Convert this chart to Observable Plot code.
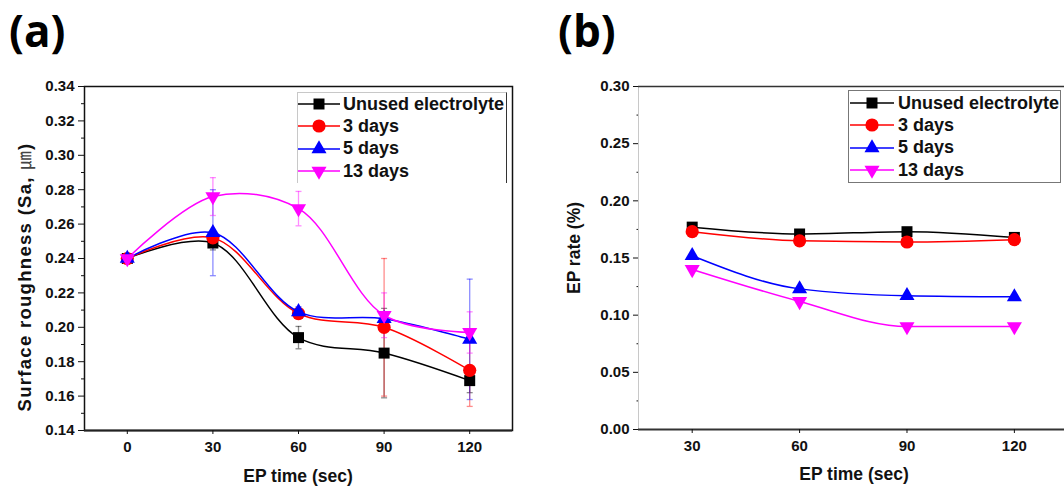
<!DOCTYPE html>
<html><head><meta charset="utf-8">
<script src="https://cdn.jsdelivr.net/npm/d3@7"></script>
<script src="https://cdn.jsdelivr.net/npm/@observablehq/plot@0.6"></script>
<style>
html,body{margin:0;padding:0;background:#fff;overflow:hidden}
#wrap{position:relative;width:1064px;height:486px;font-family:"Liberation Sans",Arial,sans-serif;font-weight:bold;color:#111}
.panel{position:absolute;font-family:"Open Sans",sans-serif;font-weight:700;font-size:44px;line-height:1;color:#000}
.title{position:absolute;font-size:17.5px;white-space:nowrap;transform:translate(-50%,-50%);line-height:1}
.vtitle{transform:translate(-50%,-50%) rotate(-90deg)}
.legend{position:absolute;background:#fff;font-size:18px;box-sizing:border-box}
.legend .row{display:flex;align-items:center;height:22.3px;white-space:nowrap}
.um{font-family:"Noto Sans CJK KR",sans-serif;font-weight:normal;color:#444}
</style></head><body><div id="wrap"></div>
<script>
// ---------- data ----------
const series = ["Unused electrolyte", "3 days", "5 days", "13 days"];
const colors = ["#000000", "#ff0000", "#0000ff", "#ff00ff"];

// (a) surface roughness vs EP time
const timeA = [0, 30, 60, 90, 120];
const saUnused = [0.240, 0.249, 0.194, 0.185, 0.169];
const sa3days  = [0.240, 0.252, 0.208, 0.200, 0.175];
const sa5days  = [0.240, 0.255, 0.209, 0.205, 0.193];
const sa13days = [0.240, 0.276, 0.269, 0.207, 0.197];
const errUnused = [0.002, 0.004, 0.0065, 0.026, 0.007];
const err3days  = [0.002, 0.004, 0.003, 0.040, 0.021];
const err5days  = [0.002, 0.025, 0.003, 0.004, 0.035];
const err13days = [0.002, 0.011, 0.010, 0.013, 0.012];

// (b) EP rate vs EP time
const timeB = [30, 60, 90, 120];
const rateUnused = [0.177, 0.171, 0.173, 0.168];
const rate3days  = [0.173, 0.165, 0.164, 0.166];
const rate5days  = [0.152, 0.123, 0.117, 0.116];
const rate13days = [0.140, 0.112, 0.090, 0.090];

// ticks
const yTicksA = [0.14, 0.16, 0.18, 0.20, 0.22, 0.24, 0.26, 0.28, 0.30, 0.32, 0.34];
const yMinorA = [0.15, 0.17, 0.19, 0.21, 0.23, 0.25, 0.27, 0.29, 0.31, 0.33];
const yTicksB = [0, 0.05, 0.10, 0.15, 0.20, 0.25, 0.30];
const yMinorB = [0.025, 0.075, 0.125, 0.175, 0.225, 0.275];

// ---------- build ----------
const saSeries = [saUnused, sa3days, sa5days, sa13days];
const errSeries = [errUnused, err3days, err5days, err13days];
const rateSeries = [rateUnused, rate3days, rate5days, rate13days];

const S3 = Math.sqrt(3);
const triDown = {draw(ctx, size) {
  const y = -Math.sqrt(size / (S3 * 3));
  ctx.moveTo(0, -2 * y); ctx.lineTo(-S3 * y, y); ctx.lineTo(S3 * y, y); ctx.closePath();
}};
const capSym = {draw(ctx, size) { const w = Math.sqrt(size) / 2; ctx.moveTo(-w, 0); ctx.lineTo(w, 0); }};
const symbols = ["square", "circle", "triangle", triDown];
const symR = [6.2, 6.6, 5.6, 5.6];
const d3Sym = [d3.symbolSquare, d3.symbolCircle, d3.symbolTriangle, triDown];

const rowsA = series.map((s, i) => timeA.map((t, j) => ({series: s, t, v: saSeries[i][j], e: errSeries[i][j]})));
const rowsB = series.map((s, i) => timeB.map((t, j) => ({series: s, t, v: rateSeries[i][j]})));

const baseStyle = {fontFamily: "Liberation Sans, Arial, sans-serif", fontWeight: "bold", fontSize: "15px", color: "#111", background: "transparent", overflow: "visible"};
const FS = 15;

const marksA = [
  Plot.frame({stroke: "#111", strokeWidth: 1.5}),
  Plot.ruleY([0.14], {stroke: "#222", strokeWidth: 2}),
  Plot.axisY({ticks: yTicksA, tickSize: 6, tickPadding: 4, tickFormat: d3.format(".2f"), label: null, fontSize: FS}),
  Plot.axisY({ticks: yMinorA, tickSize: 3, tickFormat: () => "", label: null}),
  Plot.axisX({ticks: timeA, tickSize: 4, tickPadding: 7, tickFormat: d3.format("d"), label: null, fontSize: FS})
];
rowsA.forEach((rows, i) => {
  const caps = rows.flatMap(d => [{t: d.t, y: d.v - d.e}, {t: d.t, y: d.v + d.e}]);
  marksA.push(
    Plot.ruleX(rows, {x: "t", y1: d => d.v - d.e, y2: d => d.v + d.e, stroke: colors[i], strokeOpacity: 0.45, strokeWidth: 1.3}),
    Plot.dot(caps, {x: "t", y: "y", symbol: capSym, r: 3.4, stroke: colors[i], strokeOpacity: 0.45, strokeWidth: 1.3, fill: "none"})
  );
});
rowsA.forEach((rows, i) => {
  marksA.push(
    Plot.line(rows, {x: "t", y: "v", stroke: colors[i], strokeWidth: 1.5, curve: "catmull-rom"}),
    Plot.dot(rows, {x: "t", y: "v", symbol: symbols[i], r: symR[i], fill: colors[i], stroke: "none"})
  );
});

const plotA = Plot.plot({
  width: 530, height: 486, marginLeft: 84, marginRight: 18, marginTop: 86, marginBottom: 56,
  x: {domain: [-15, 135], label: null},
  y: {domain: [0.14, 0.34], label: null},
  style: baseStyle,
  marks: marksA
});

const marksB = [
  Plot.ruleX([15], {stroke: "#c8c8c8", strokeWidth: 1}),
  Plot.ruleY([0.30], {stroke: "#333", strokeWidth: 1.5}),
  Plot.ruleY([0], {stroke: "#333", strokeWidth: 2}),
  Plot.axisY({ticks: yTicksB, tickSize: 5, tickPadding: 4, tickFormat: d3.format(".2f"), label: null, fontSize: FS}),
  Plot.axisY({ticks: yMinorB, tickSize: 1.5, tickFormat: () => "", label: null}),
  Plot.axisX({ticks: timeB, tickSize: 4, tickPadding: 7, tickFormat: d3.format("d"), label: null, fontSize: FS})
];
rowsB.forEach((rows, i) => {
  marksB.push(
    Plot.line(rows, {x: "t", y: "v", stroke: colors[i], strokeWidth: 1.5, curve: "monotone-x"}),
    Plot.dot(rows, {x: "t", y: "v", symbol: symbols[i], r: symR[i], fill: colors[i], stroke: "none"})
  );
});
const plotB = Plot.plot({
  width: 532, height: 486, marginLeft: 106, marginRight: 0, marginTop: 86, marginBottom: 57,
  x: {domain: [15, 134], label: null},
  y: {domain: [0, 0.30], label: null},
  style: baseStyle,
  marks: marksB
});

const wrap = document.getElementById("wrap");
plotA.style.position = "absolute"; plotA.style.left = "0px"; plotA.style.top = "0px";
plotB.style.position = "absolute"; plotB.style.left = "532px"; plotB.style.top = "0px";
wrap.appendChild(plotA);
wrap.appendChild(plotB);

function addDiv(cls, html, css) {
  const d = document.createElement("div");
  d.className = cls; d.innerHTML = html;
  Object.assign(d.style, css);
  wrap.appendChild(d);
  return d;
}
addDiv("panel", "(a)", {left: "9px", top: "8px"});
addDiv("panel", "(b)", {left: "558px", top: "8px"});
addDiv("title", "EP time (sec)", {left: "298px", top: "477px"});
addDiv("title", "EP time (sec)", {left: "854px", top: "475px"});
addDiv("title vtitle", 'Surface roughness (Sa, <span class="um">㎛</span>)', {left: "24px", top: "277px", fontSize: "18.5px", letterSpacing: "1.3px"});
addDiv("title vtitle", "EP rate (%)", {left: "575px", top: "248px"});

function legend(css, lineW, gap, padTop) {
  const box = addDiv("legend", "", css);
  box.style.paddingTop = padTop + "px";
  series.forEach((s, i) => {
    const r = symR[i];
    const path = d3.symbol(d3Sym[i], Math.PI * r * r)();
    const row = document.createElement("div");
    row.className = "row";
    row.innerHTML = `<svg width="${lineW}" height="22" style="flex:none;margin-right:${gap}px">
      <line x1="0" x2="${lineW}" y1="11" y2="11" stroke="${colors[i]}" stroke-width="1.5"/>
      <path d="${path}" transform="translate(${lineW / 2},11)" fill="${colors[i]}"/></svg><span>${s}</span>`;
    box.appendChild(row);
  });
}
legend({left: "297px", top: "92px", width: "210px", height: "91px", borderTop: "1px solid #c8c8c8", borderLeft: "1px solid #c8c8c8", borderRight: "1.5px solid #333", paddingLeft: "0px"}, 42, 3, 0);
legend({left: "848px", top: "90px", width: "213px", height: "93px", border: "1.5px solid #777", paddingLeft: "1px"}, 44, 4, 1);
</script></body></html>
